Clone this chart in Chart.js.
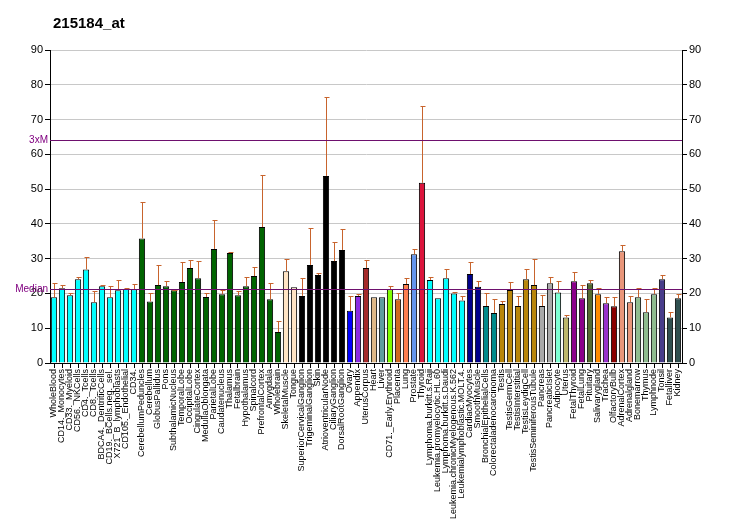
<!DOCTYPE html>
<html>
<head>
<meta charset="utf-8">
<script src="https://cdn.jsdelivr.net/npm/chart.js@4"></script>
<style>
  body { margin: 0; background: #fff; }
  canvas { display: block; }
</style>
</head>
<body>
<canvas id="chart" width="732" height="530"></canvas>
<script>
// Datos
const chartTitle = '215184_at';

const tissues = [
  'WholeBlood', 'CD14._Monocytes', 'CD33._Myeloid', 'CD56._NKCells', 'CD4._Tcells',
  'CD8._Tcells', 'BDCA4._DentriticCells', 'CD19._BCells.neg._sel.', 'X721_B_lymphoblasts', 'CD105._Endothelial',
  'CD34.', 'CerebellumPeduncles', 'Cerebellum', 'GlobusPallidus', 'Pons',
  'SubthalamicNucleus', 'TemporalLobe', 'OccipitalLobe', 'CingulateCortex', 'MedullaOblongata',
  'ParietalLobe', 'Caudatenucleus', 'Thalamus', 'Fetalbrain', 'Hypothalamus',
  'Spinalcord', 'PrefrontalCortex', 'Amygdala', 'Wholebrain', 'SkeletalMuscle',
  'Tongue', 'SuperiorCervicalGanglion', 'TrigeminalGanglion', 'Skin', 'AtrioventricularNode',
  'CiliaryGanglion', 'DorsalRootGanglion', 'Ovary', 'Appendix', 'UterusCorpus',
  'Heart', 'Liver', 'CD71._Early.Erythroid', 'Placenta', 'Lung',
  'Prostate', 'Thyroid', 'Lymphoma.burkitt.s.Raji', 'Leukemia.promyelocytic.HL.60', 'Lymphoma.burkitt.s.Daudi',
  'Leukemia.chronicMyelogenous.K.562', 'Leukemialymphoblastic.MOLT.4.', 'CardiacMyocytes', 'SmoothMuscle', 'BronchialEpithelialCells',
  'Colorectaladenocarcinoma', 'Testis', 'TestisGermCell', 'TestisInterstitial', 'TestisLeydigCell',
  'TestisSeminiferousTubule', 'Pancreas', 'PancreaticIslet', 'Adipocyte', 'Uterus',
  'FetalThyroid', 'FetalLung', 'Pituitary', 'Salivarygland', 'Trachea',
  'OlfactoryBulb', 'AdrenalCortex', 'Adrenalgland', 'Bonemarrow', 'Thymus',
  'Lymphnode', 'Tonsil', 'Fetalliver', 'Kidney'
];

const expression = [
  18.9, 21.5, 19.5, 24.1, 26.9, 17.5, 22.1, 18.9, 20.9, 21.3,
  21.2, 35.8, 17.7, 22.4, 22.1, 20.9, 23.3, 27.3, 24.4, 19.0,
  32.8, 19.8, 31.6, 19.5, 22.1, 25.0, 39.1, 18.3, 8.9, 26.4,
  21.8, 19.3, 28.2, 25.3, 53.8, 29.3, 32.5, 15.0, 19.3, 27.3,
  18.9, 18.9, 21.2, 18.3, 22.7, 31.3, 51.8, 23.9, 18.6, 24.4,
  20.0, 18.0, 25.6, 21.9, 16.4, 14.4, 17.0, 21.0, 16.4, 24.1,
  22.4, 16.4, 22.9, 20.3, 13.1, 23.5, 18.6, 22.9, 19.8, 17.2,
  16.3, 32.1, 17.5, 18.9, 14.6, 19.8, 24.1, 13.1, 18.6
];

// extremo superior de la barra de error
const errorTop = [
  22.9, 22.3, 20.0, 24.7, 30.5, 20.6, 22.3, 22.1, 23.8, 21.5,
  22.6, 46.3, 20.0, 28.1, 23.6, 21.1, 29.0, 29.5, 29.2, 20.0,
  41.1, 20.9, 31.8, 20.6, 24.7, 27.6, 54.0, 22.9, 12.0, 29.8,
  21.8, 24.3, 38.7, 25.8, 76.5, 34.7, 38.4, 19.2, 19.8, 29.6,
  18.9, 18.9, 22.1, 20.0, 24.3, 32.8, 74.0, 24.7, 18.6, 26.9,
  20.3, 19.3, 29.0, 23.5, 20.0, 18.4, 17.7, 23.2, 19.3, 26.9,
  29.9, 19.5, 24.7, 23.5, 13.7, 26.1, 22.3, 23.8, 21.7, 18.9,
  18.9, 33.8, 19.3, 21.5, 18.3, 21.7, 25.2, 14.6, 19.7
];

const medianValue = 21.2;
const tripleMedian = 64.1;
const yTicks = [0, 10, 20, 30, 40, 50, 60, 70, 80, 90];

// Colores por tejido
const barColors = [
  ...Array(11).fill('#00FFFF'),
  ...Array(18).fill('#006400'),
  '#FFE4C4', '#FFE4C4',
  ...Array(6).fill('#000000'),
  '#0000FF', '#8A2BE2', '#A52A2A', '#DEB887', '#5F9EA0', '#7FFF00', '#D2691E', '#FF7F50', '#6495ED', '#DC143C',
  ...Array(5).fill('#00FFFF'),
  '#00008B', '#00008B', '#008B8B', '#008B8B',
  ...Array(5).fill('#B8860B'),
  '#A9A9A9', '#A9A9A9', '#7FFFD4', '#BDB76B', '#8B008B', '#8B008B', '#556B2F', '#FF8C00', '#9932CC', '#8B0000',
  '#E9967A', '#E9967A', '#8FBC8F', '#8FBC8F', '#8FBC8F', '#483D8B', '#2F4F4F', '#2F4F4F'
];

const FONT = '"Liberation Sans", Arial, sans-serif';

// Plugin: título, barras de error y líneas de mediana
const overlayPlugin = {
  id: 'overlay',
  afterDatasetsDraw(chart) {
    const ctx = chart.ctx;
    const y = chart.scales.y;
    const area = chart.chartArea;
    const meta = chart.getDatasetMeta(0);

    ctx.save();
    ctx.strokeStyle = '#C8642D';
    ctx.lineWidth = 1;
    meta.data.forEach((bar, i) => {
      if (errorTop[i] <= expression[i]) return;
      const top = Math.round(y.getPixelForValue(errorTop[i])) + 0.5;
      const x = Math.round(bar.x) + 0.5;
      ctx.beginPath();
      ctx.moveTo(x, bar.y);
      ctx.lineTo(x, top);
      ctx.moveTo(x - 2, top);
      ctx.lineTo(x + 3, top);
      ctx.stroke();
    });

    // líneas de referencia
    ctx.strokeStyle = '#6E106E';
    [medianValue, tripleMedian].forEach(v => {
      const py = Math.round(y.getPixelForValue(v)) + 0.5;
      ctx.beginPath();
      ctx.moveTo(area.left, py);
      ctx.lineTo(area.right, py);
      ctx.stroke();
    });

    ctx.fillStyle = '#800080';
    ctx.font = '10px ' + FONT;
    ctx.textAlign = 'right';
    ctx.textBaseline = 'middle';
    ctx.fillText('Median', area.left - 2, y.getPixelForValue(medianValue));
    ctx.fillText('3xM', area.left - 2, y.getPixelForValue(tripleMedian));

    ctx.fillStyle = '#000';
    ctx.font = 'bold 15px ' + FONT;
    ctx.textAlign = 'left';
    ctx.textBaseline = 'alphabetic';
    ctx.fillText(chartTitle, 53, 28);
    ctx.restore();
  }
};

function yAxis(position) {
  return {
    position: position,
    min: 0,
    max: 90,
    afterBuildTicks(scale) {
      scale.ticks = yTicks.map(v => ({ value: v }));
    },
    afterFit(scale) { scale.width = 50; },
    border: { color: '#000', width: 1 },
    grid: {
      color: ctx => ctx.tick && ctx.tick.value === 0 ? 'rgba(0,0,0,0)' : '#C8C8C8',
      drawOnChartArea: position === 'left',
      tickColor: '#000',
      tickLength: 5
    },
    ticks: {
      color: '#000',
      padding: 2,
      font: { family: FONT, size: 11 }
    }
  };
}

function init() {
  new Chart(document.getElementById('chart'), {
    type: 'bar',
    data: {
      labels: tissues,
      datasets: [{
        data: expression,
        backgroundColor: barColors,
        borderColor: '#000',
        borderWidth: 1,
        barPercentage: 0.78,
        categoryPercentage: 1.0
      }]
    },
    options: {
      responsive: false,
      animation: false,
      devicePixelRatio: 1,
      layout: { padding: { top: 50, left: 0, right: 0, bottom: 0 } },
      plugins: {
        legend: { display: false },
        tooltip: { enabled: false },
        title: { display: false }
      },
      scales: {
        x: {
          afterFit(scale) { scale.height = 167; },
          border: { color: '#000', width: 1 },
          grid: {
            offset: false,
            drawOnChartArea: false,
            tickColor: '#000',
            tickLength: 5
          },
          ticks: {
            autoSkip: false,
            minRotation: 90,
            maxRotation: 90,
            padding: 1,
            color: '#000',
            font: { family: FONT, size: 9 }
          }
        },
        y: yAxis('left'),
        y2: yAxis('right')
      }
    },
    plugins: [overlayPlugin]
  });
}

document.addEventListener('DOMContentLoaded', init);
</script>
</body>
</html>
